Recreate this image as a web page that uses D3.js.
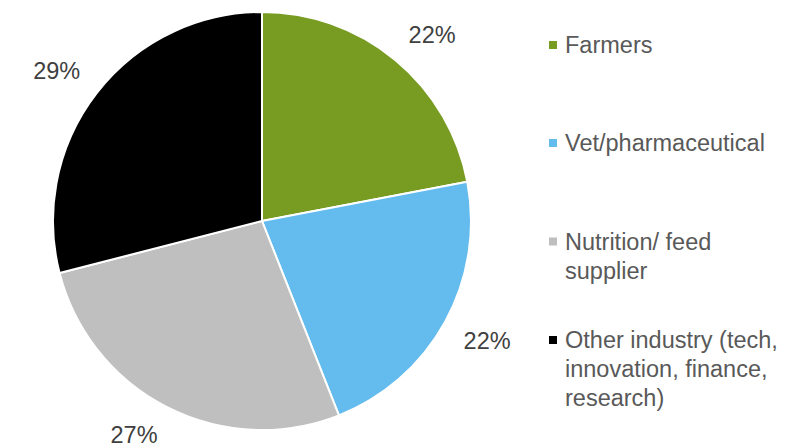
<!DOCTYPE html>
<meta charset="utf-8">
<style type="text/css">
body { margin: 0; background: #fff; }
.label { font-family: 'Liberation Sans', sans-serif; font-size: 23.5px; fill: #404040; }
.legend text { font-family: 'Liberation Sans', sans-serif; font-size: 23.5px; fill: #595959; }
</style>
<body>
<div class="g-chart"></div>
<script src="https://cdnjs.cloudflare.com/ajax/libs/d3/7.8.5/d3.min.js"></script>
<script type="text/javascript">

// data
var categories = ["Farmers", "Vet/pharmaceutical", "Nutrition/ feed supplier", "Other industry (tech, innovation, finance, research)"];
var values = [22, 22, 27, 29];
var colors = ["#789b22", "#63bbee", "#bfbfbf", "#000000"];
// legend lines (wrapped as in the original)
var legendLines = [["Farmers"], ["Vet/pharmaceutical"], ["Nutrition/ feed", "supplier"], ["Other industry (tech,", "innovation, finance,", "research)"]];
var legendCenters = [45, 143, 256, 369];

var width = 805, height = 444;
var cx = 262, cy = 221, radius = 209;

var svg = d3.select(".g-chart").append("svg")
  .attr("width", width)
  .attr("height", height);

var pie = d3.pie().sort(null).value(function(d) { return d; });
var arc = d3.arc().innerRadius(0).outerRadius(radius);
// nearest corner of each label box sits on this radius, along the slice's mid angle
var labelArc = d3.arc().innerRadius(radius + 21).outerRadius(radius + 21);

var g = svg.append("g").attr("transform", "translate(" + cx + "," + cy + ")");

//slices
g.selectAll("path")
  .data(pie(values))
  .enter().append("path")
  .attr("d", arc)
  .attr("fill", function(d, i) { return colors[i]; })
  .attr("stroke", "#ffffff")
  .attr("stroke-width", 2)
  .attr("stroke-linejoin", "round");

//percent labels
g.selectAll("text.label")
  .data(pie(values))
  .enter().append("text")
  .attr("class", "label")
  .attr("text-anchor", "middle")
  .attr("dy", "0.35em")
  .text(function(d) { return d.data + "%"; })
  .attr("transform", function(d) {
    var p = labelArc.centroid(d);
    var w = this.getComputedTextLength(), h = 18;
    var x = p[0] + (p[0] < 0 ? -w / 2 : w / 2);
    var y = p[1] + (p[1] < 0 ? -h / 2 : h / 2);
    return "translate(" + x + "," + y + ")";
  });

//legend
var lineH = 29;
var legend = svg.append("g").attr("class", "legend");
categories.forEach(function(c, i) {
  var lines = legendLines[i];
  var top = legendCenters[i] - (lines.length - 1) * lineH / 2;
  legend.append("rect")
    .attr("x", 549)
    .attr("y", top - 4)
    .attr("width", 8)
    .attr("height", 8)
    .attr("fill", colors[i]);
  var t = legend.append("text");
  lines.forEach(function(l, j) {
    t.append("tspan").attr("x", 565).attr("y", top + j * lineH).attr("dy", "0.35em").text(l);
  });
});

</script>
</body>
